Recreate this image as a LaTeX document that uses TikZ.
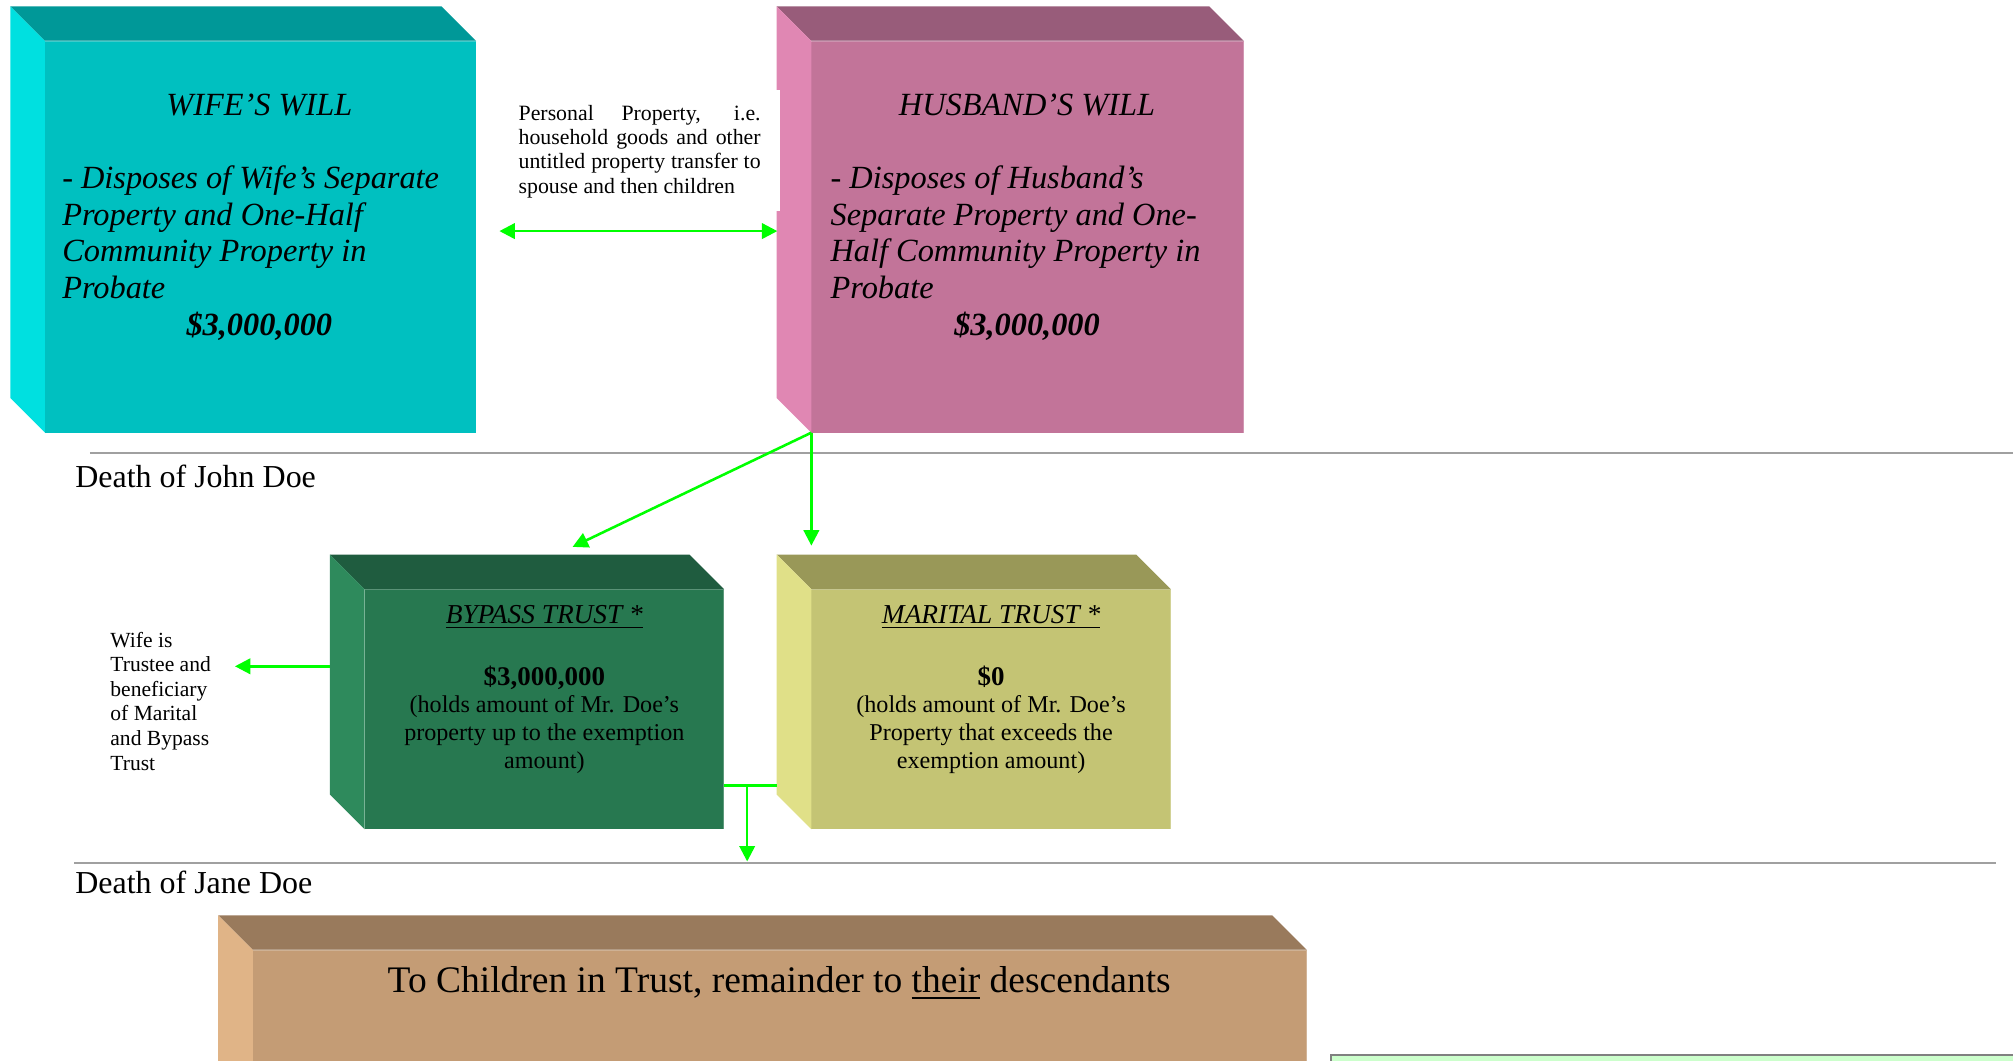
\documentclass[tikz,border=0pt]{standalone}
\usepackage{fontspec}
\setmainfont{Liberation Serif}
\usetikzlibrary{arrows.meta}
\definecolor{wifefront}{HTML}{00C0C0}
\definecolor{wifetop}{HTML}{009898}
\definecolor{wifeside}{HTML}{00E0E0}
\definecolor{husfront}{HTML}{C27499}
\definecolor{hustop}{HTML}{985C7A}
\definecolor{husside}{HTML}{E087B3}
\definecolor{bpfront}{HTML}{277850}
\definecolor{bptop}{HTML}{1F5C3F}
\definecolor{bpside}{HTML}{2E8A5C}
\definecolor{mtfront}{HTML}{C4C474}
\definecolor{mttop}{HTML}{999858}
\definecolor{mtside}{HTML}{E0E088}
\definecolor{chfront}{HTML}{C49C75}
\definecolor{chtop}{HTML}{997A5C}
\definecolor{chside}{HTML}{E0B487}
\definecolor{arrowgreen}{HTML}{00FF00}
\definecolor{sepgray}{HTML}{A0A0A0}
\definecolor{notegreen}{HTML}{CCFFCC}
\newcommand\myul[3]{\leavevmode\vtop{\hbox{#3}\kern#1\hrule height#2}}
\newcommand\cubefaces[3]{%
  \fill[#2] (#1.north west) -- ++(-27,-27) -- ([shift={(-27,-27)}]#1.north east) -- (#1.north east) -- cycle;
  \fill[#3] (#1.north west) -- ++(-27,-27) -- ([shift={(-27,-27)}]#1.south west) -- (#1.south west) -- cycle;
  \draw[line width=1pt,white,opacity=0.25] (#1.north west) -- (#1.north east) -- (#1.south east);
}
\begin{document}
\begin{tikzpicture}[x=1pt,y=-1pt,
  face/.style={anchor=north west, inner sep=0pt, outer sep=0pt},
  conn/.style={draw=arrowgreen, line width=2pt},
  tip/.style={-{Triangle[length=12pt,width=12pt]}},
  txt/.style={inner sep=0pt, outer sep=0pt},
  sep/.style={draw=sepgray, line width=1.6pt}]
\useasboundingbox (0,0) rectangle (1568,826);
\begin{scope}
\clip (0,0) rectangle (1568,826);

% Wife's will
\node[face, fill=wifefront, minimum width=336pt, minimum height=305pt] (wife) at (35,32) {};
\cubefaces{wife}{wifetop}{wifeside}
\node[txt, anchor=base west] (wifetext) at (48.5,89.6) {\parbox[t]{307pt}{\fontsize{25.2pt}{28.6pt}\selectfont\itshape\centering WIFE’S WILL\par\mbox{}\par\raggedright - Disposes of Wife’s Separate\\Property and One-Half\\Community Property in\\Probate\par\centering\bfseries \$3,000,000\par}};

% Husband's will
\node[face, fill=husfront, minimum width=337pt, minimum height=305pt] (husband) at (632,32) {};
\cubefaces{husband}{hustop}{husside}
\node[txt, anchor=base west] (hustext) at (647,89.6) {\parbox[t]{306pt}{\fontsize{25.2pt}{28.6pt}\selectfont\itshape\centering HUSBAND’S WILL\par\mbox{}\par\raggedright - Disposes of Husband’s\\Separate Property and One-\\Half Community Property in\\Probate\par\centering\bfseries \$3,000,000\par}};

% Personal property note
\node[face, fill=white, minimum width=210.5pt, minimum height=94.4pt] (ppbg) at (397,70) {};
\node[txt, anchor=base west] (pptext) at (404,93.5) {\parbox[t]{188.5pt}{\fontsize{17pt}{19pt}\selectfont Personal Property, i.e.\linebreak household goods and other\linebreak untitled property transfer to\linebreak spouse and then children}};

% separators
\draw[sep] (70,353) -- (1568,353);
\draw[sep] (58,672) -- (1555,672);
\node[txt, anchor=base west] (djohn) at (58.7,380) {\fontsize{24.9pt}{28pt}\selectfont Death of John Doe};
\node[txt, anchor=base west] (djane) at (58.7,696) {\fontsize{24.9pt}{28pt}\selectfont Death of Jane Doe};

% Bypass trust
\node[face, fill=bpfront, minimum width=280pt, minimum height=187pt] (bypass) at (284,459) {};
\cubefaces{bypass}{bptop}{bpside}
\node[txt, anchor=base] (bptext) at (424,485.6) {\parbox[t]{280pt}{\fontsize{18.8pt}{21.6pt}\selectfont\centering \myul{2.2pt}{1.3pt}{\fontsize{21.3pt}{21.6pt}\selectfont\itshape BYPASS TRUST *}\\[26.4pt]{\fontsize{21pt}{21.6pt}\selectfont\bfseries \$3,000,000}\\(holds amount of Mr. Doe’s\\property up to the exemption\\amount)\par}};

% Marital trust
\node[face, fill=mtfront, minimum width=280pt, minimum height=187pt] (marital) at (632,459) {};
\cubefaces{marital}{mttop}{mtside}
\node[txt, anchor=base] (mttext) at (772,485.6) {\parbox[t]{280pt}{\fontsize{18.8pt}{21.6pt}\selectfont\centering \myul{2.2pt}{1.3pt}{\fontsize{21.3pt}{21.6pt}\selectfont\itshape MARITAL TRUST *}\\[26.4pt]{\fontsize{21pt}{21.6pt}\selectfont\bfseries \$0}\\(holds amount of Mr. Doe’s\\Property that exceeds the\\exemption amount)\par}};

% Wife is trustee note
\node[txt, anchor=base west] (wifeis) at (86,504) {\parbox[t]{95pt}{\fontsize{16.8pt}{19.2pt}\selectfont\raggedright Wife is\\Trustee and\\beneficiary\\of Marital\\and Bypass\\Trust}};

% Children box
\node[face, fill=chfront, minimum width=821pt, minimum height=130pt] (children) at (197,740) {};
\cubefaces{children}{chtop}{chside}
\node[txt, anchor=base] (chtext) at (607,773.3) {\fontsize{29.2pt}{33pt}\selectfont To Children in Trust, remainder to \myul{3pt}{1.5pt}{their} descendants};

% partial note box at bottom right
\node[face, draw=gray, fill=notegreen, line width=1.5pt, minimum width=545pt, minimum height=30pt] (notebox) at (1036.5,821.5) {};

% connectors
\coordinate (ppL) at (389,180);
\coordinate (ppR) at (605.5,180);
\draw[conn, {Triangle[length=12pt,width=12pt]}-{Triangle[length=12pt,width=12pt]}] (ppL) -- (ppR);
\coordinate (bpin) at (446,426);
\coordinate (mtin) at (632,425);
\draw[conn, tip] (husband.south west) -- (bpin);
\draw[conn, tip] (husband.south west) -- (mtin);
\coordinate (bpleft) at (257,519);
\coordinate (wifeisR) at (183,519);
\draw[conn, tip] (bpleft) -- (wifeisR);
\coordinate (bpR) at (564,612);
\coordinate (mtL) at (605,612);
\coordinate (jx) at (582,612);
\coordinate (chin) at (582,671);
\draw[conn] (bpR) -- (mtL);
\draw[conn, tip] (jx) -- (chin);
\end{scope}
\end{tikzpicture}
\end{document}
